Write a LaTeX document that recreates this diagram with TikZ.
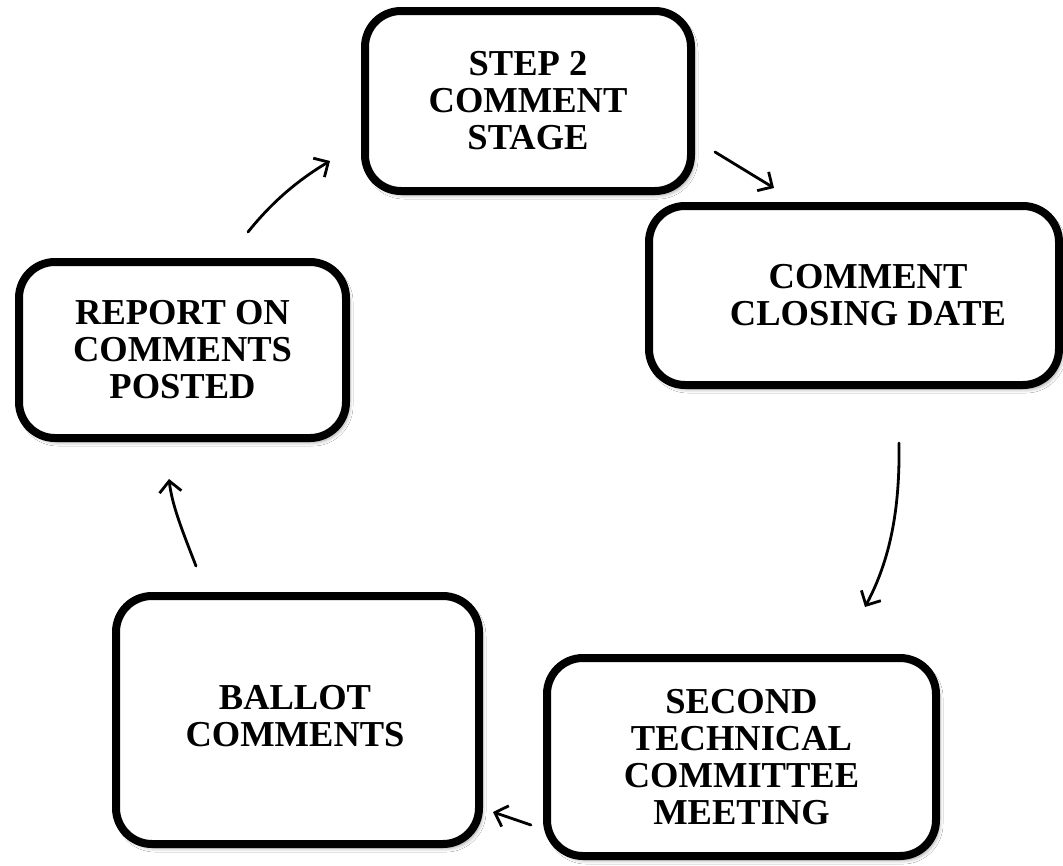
\documentclass[tikz,border=0pt]{standalone}
\usepackage{fontspec}
\setmainfont{Liberation Serif}
\usetikzlibrary{arrows.meta,shadows.blur}
\begin{document}
\begin{tikzpicture}[x=1pt,y=-1pt,
  stagebox/.style={draw=black, line width=8pt, rounded corners=36pt, fill=white,
    inner sep=0pt, align=center,
    font=\bfseries\fontsize{36.5}{37}\selectfont,
    blur shadow={shadow xshift=3pt, shadow yshift=-4pt, shadow blur radius=4pt, shadow opacity=40}},
  flowarrow/.style={line width=2.8pt, line cap=round, -{Straight Barb[length=11pt,width=22pt,line width=2.8pt]}}]
\useasboundingbox (0,0) rectangle (1063,865);
\fill[white] (0,0) rectangle (1063,865);

\node[stagebox, minimum width=326pt, minimum height=180pt] (s1) at (528,101) {STEP 2\\COMMENT\\STAGE};
\node[stagebox, minimum width=410pt, minimum height=179pt] (s2) at (854,295.5) {\hspace*{28pt}COMMENT\\\hspace*{28pt}CLOSING DATE};
\node[stagebox, minimum width=363pt, minimum height=248pt] (s4) at (297.5,720) {};
\node[align=center, inner sep=0pt, font=\bfseries\fontsize{36.5}{37}\selectfont] (s4text) at (295,716) {BALLOT\\COMMENTS};
\node[stagebox, minimum width=389pt, minimum height=198pt] (s3) at (741.5,757) {SECOND\\TECHNICAL\\COMMITTEE\\MEETING};
\node[stagebox, minimum width=327pt, minimum height=176pt] (s5) at (182.5,350) {REPORT ON\\COMMENTS\\POSTED};

\coordinate (a1s) at (248,232); \coordinate (a1e) at (330,161);
\coordinate (a2s) at (715,152); \coordinate (a2e) at (774,188);
\coordinate (a3s) at (899,443); \coordinate (a3e) at (865,607);
\coordinate (a4s) at (531,825); \coordinate (a4e) at (493,812);
\coordinate (a5s) at (196,566); \coordinate (a5e) at (169,479);

\draw[flowarrow] (a1s) .. controls (272,202) and (298,180) .. (a1e);
\draw[flowarrow] (a2s) -- (a2e);
\draw[flowarrow] (a3s) .. controls (900,510) and (890,560) .. (a3e);
\draw[flowarrow] (a4s) -- (a4e);
\draw[flowarrow] (a5s) .. controls (182,530) and (172,505) .. (a5e);
\end{tikzpicture}
\end{document}
